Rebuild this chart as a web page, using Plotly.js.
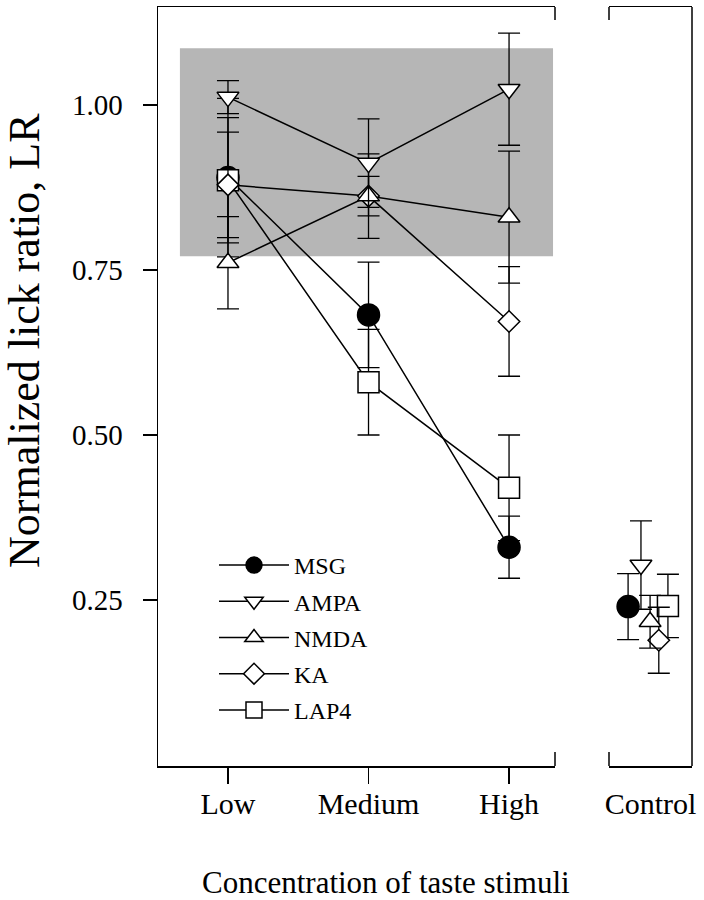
<!DOCTYPE html>
<html>
<head>
<meta charset="utf-8">
<script src="https://cdn.plot.ly/plotly-3.0.1.min.js"></script>
<style>html,body{margin:0;padding:0;background:#fff;}#chart{width:704px;height:900px;}</style>
</head>
<body>
<div id="chart"></div>
<script>
// ---- data ----
const categories = ['Low', 'Medium', 'High'];
const seriesNames = ['MSG', 'AMPA', 'NMDA', 'KA', 'LAP4'];
const msgLR  = [0.890, 0.682, 0.330];
const msgErr = [0.120, 0.080, 0.047];
const ampaLR  = [1.012, 0.912, 1.024];
const ampaErr = [0.025, 0.067, 0.085];
const nmdaLR  = [0.761, 0.862, 0.830];
const nmdaErr = [0.070, 0.064, 0.100];
const kaLR  = [0.879, 0.862, 0.672];
const kaErr = [0.080, 0.030, 0.083];
const lap4LR  = [0.886, 0.580, 0.420];
const lap4Err = [0.095, 0.080, 0.080];
const controlLabel = ['Control'];
const controlLR  = [0.240, 0.303, 0.217, 0.189, 0.241];   // MSG, AMPA, NMDA, KA, LAP4
const controlErr = [0.050, 0.067, 0.040, 0.050, 0.048];
const yTickVals = [0.25, 0.50, 0.75, 1.00];
const bandRange = [0.771, 1.086];

// ---- styling ----
const FONT = 'Liberation Serif, Times New Roman, serif';
const values = {MSG: [msgLR, msgErr], AMPA: [ampaLR, ampaErr], NMDA: [nmdaLR, nmdaErr], KA: [kaLR, kaErr], LAP4: [lap4LR, lap4Err]};
const style = {
  MSG:  {symbol: 'circle',        size: 22,   fill: '#000'},
  AMPA: {symbol: 'triangle-down', size: 19,   fill: '#fff'},
  NMDA: {symbol: 'triangle-up',   size: 19,   fill: '#fff'},
  KA:   {symbol: 'diamond',       size: 16.5, fill: '#fff'},
  LAP4: {symbol: 'square',        size: 21,   fill: '#fff'}
};
const controlDodge = [-0.27, -0.115, -0.005, 0.10, 0.21];
const drawOrder = ['MSG', 'LAP4', 'KA', 'NMDA', 'AMPA'];

const traces = [];
drawOrder.forEach(function (name) {
  const i = seriesNames.indexOf(name);
  const st = style[name];
  const marker = {symbol: st.symbol, size: st.size, color: st.fill, line: {color: '#000', width: 1.5}};
  const err = function (arr) { return {type: 'data', array: arr, visible: true, color: '#000', thickness: 1.3, width: 11}; };
  traces.push({
    type: 'scatter', mode: 'lines+markers', name: name,
    x: categories, y: values[name][0], error_y: err(values[name][1]),
    xaxis: 'x', yaxis: 'y',
    line: {color: '#000', width: 1.5}, marker: marker,
    legendgroup: name, legendrank: i + 1, cliponaxis: false
  });
  traces.push({
    type: 'scatter', mode: 'markers', name: name, showlegend: false,
    x: [controlDodge[i]], y: [controlLR[i]], error_y: err([controlErr[i]]),
    xaxis: 'x2', yaxis: 'y',
    marker: marker, legendgroup: name, cliponaxis: false
  });
});

const L = 158, R = 692, T = 7, B = 766;
const W = R - L, H = B - T;
const px = function (p) { return (p - L) / W; };
const py = function (p) { return (B - p) / H; };

const axLine = {color: '#000', width: 1.5};
const layout = {
  width: 704, height: 900,
  margin: {l: L, r: 704 - R, t: T, b: 900 - B},
  paper_bgcolor: '#fff', plot_bgcolor: 'rgba(0,0,0,0)',
  showlegend: true,
  font: {family: FONT, color: '#000'},
  xaxis: {
    domain: [0, px(555)], type: 'category', range: [-0.498, 2.327],
    showline: true, linecolor: '#000', linewidth: 1.5, mirror: true,
    showgrid: false, zeroline: false,
    ticks: 'outside', ticklen: 16, tickwidth: 1.5, tickcolor: '#000',
    tickfont: {family: FONT, size: 30, color: '#000'}, ticklabelstandoff: -6
  },
  xaxis2: {
    domain: [px(609), 1], anchor: 'y', range: [-0.5, 0.5],
    showline: true, linecolor: '#000', linewidth: 1.5, mirror: true,
    showgrid: false, zeroline: false,
    tickvals: [0], ticktext: controlLabel,
    ticks: 'outside', ticklen: 16, tickwidth: 1.5, tickcolor: 'rgba(0,0,0,0)',
    tickfont: {family: FONT, size: 30, color: '#000'}, ticklabelstandoff: -6
  },
  yaxis: {
    range: [-0.0015, 1.1485], anchor: 'x',
    showline: true, linecolor: '#000', linewidth: 1.5, mirror: false,
    showgrid: false, zeroline: false,
    tickvals: yTickVals, tickformat: '.2f',
    ticks: 'outside', ticklen: 14, tickwidth: 1.5, tickcolor: '#000',
    tickfont: {family: FONT, size: 29, color: '#000'}, ticklabelstandoff: 14
  },
  legend: {
    x: px(214), y: py(543), xanchor: 'left', yanchor: 'top',
    bgcolor: 'rgba(0,0,0,0)', borderwidth: 0,
    font: {family: FONT, size: 24, color: '#000'},
    traceorder: 'grouped', tracegroupgap: 2, itemwidth: 70, itemsizing: 'trace'
  },
  shapes: [
    {type: 'rect', xref: 'x', yref: 'y', x0: -0.342, x1: 2.313, y0: bandRange[0], y1: bandRange[1],
     fillcolor: '#b6b6b6', line: {width: 0}, layer: 'below'},
    {type: 'line', xref: 'x domain', yref: 'paper', x0: 1, x1: 1, y0: 1, y1: 1 - 13 / H, line: axLine},
    {type: 'line', xref: 'x domain', yref: 'paper', x0: 1, x1: 1, y0: 0, y1: 14 / H, line: axLine},
    {type: 'line', xref: 'x2 domain', yref: 'paper', x0: 0, x1: 0, y0: 1, y1: 1 - 13 / H, line: axLine},
    {type: 'line', xref: 'x2 domain', yref: 'paper', x0: 0, x1: 0, y0: 0, y1: 14 / H, line: axLine},
    {type: 'line', xref: 'x2 domain', yref: 'paper', x0: 1, x1: 1, y0: 0, y1: 1, line: axLine}
  ],
  annotations: [
    {text: 'Normalized lick ratio, LR', textangle: -90, showarrow: false,
     xref: 'paper', yref: 'paper', x: px(24), y: py(341), xanchor: 'center', yanchor: 'middle',
     font: {family: FONT, size: 44, color: '#000'}},
    {text: 'Concentration of taste stimuli', showarrow: false,
     xref: 'paper', yref: 'paper', x: px(386), y: py(882), xanchor: 'center', yanchor: 'middle',
     font: {family: FONT, size: 31, color: '#000'}}
  ]
};

Plotly.newPlot('chart', traces, layout, {staticPlot: true, displayModeBar: false});
</script>
</body>
</html>
